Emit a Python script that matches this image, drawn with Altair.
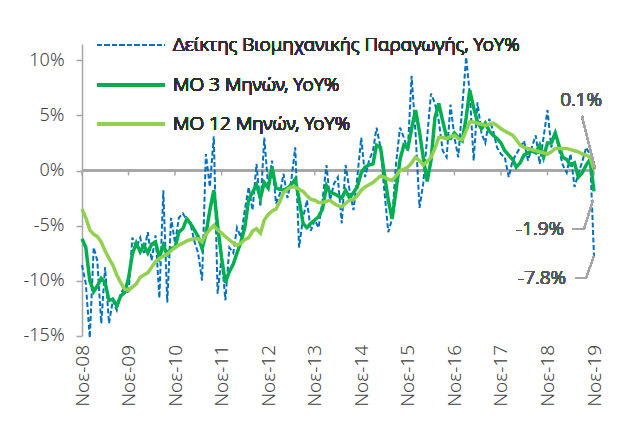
import altair as alt
import pandas as pd

# ---------------- data ----------------
start_month = "2008-11-01"
n_months = 133

ip_yoy = [
    -8.6, -10.3, -15.2, -7.0, -8.2, -13.9, -8.8, -13.9, -11.8, -12.7,
    -11.2, -10.6, -11.2, -6.1, -7.0, -6.1, -7.5, -5.6, -8.2, -5.9,
    -11.6, -1.8, -12.0, -4.3, -6.6, -4.3, -3.9, -4.5, -4.8, -6.4,
    -7.5, -10.0, 1.5, -1.5, 3.1, -11.2, -7.9, -11.8, -7.0, -7.5,
    -5.2, -6.1, -3.6, -1.5, -3.6, 0.6, -3.3, 3.0, -1.5, 0.9,
    -3.0, -2.1, -0.3, -2.5, -0.9, 2.1, -7.0, -4.3, -2.7, -5.5,
    -4.5, -5.2, -2.7, 0.5, -2.7, -1.2, -0.6, -4.8, 0.5, -1.8,
    -3.6, -0.6, 3.0, -0.6, 0.9, 1.8, 3.9, 2.1, -1.8, -5.6,
    -4.4, 0.6, 3.9, 3.0, 1.8, 8.6, 3.4, -3.4, -1.2, 3.0,
    7.0, 6.1, 4.5, 1.8, 1.2, 6.0, 3.0, 1.2, 5.7, 10.3,
    7.0, 0.9, 6.2, 3.4, 2.5, 4.7, 3.6, 2.1, 1.5, 1.2,
    -0.6, 0.9, 1.5, 2.1, 2.7, 0.9, 2.1, 3.2, 0.6, 3.0,
    5.5, 2.1, 3.6, 1.8, 0.5, -0.2, 1.5, -1.5, -0.3, 0.8,
    2.1, 1.4, -7.8,
]

ma3 = [
    -6.2, -7.0, -10.0, -11.0, -10.5, -9.8, -10.2, -11.8, -11.7, -12.3,
    -11.4, -11.1, -9.8, -7.6, -6.6, -7.4, -6.8, -7.5, -6.7, -6.5,
    -7.9, -6.8, -7.6, -7.1, -7.0, -5.6, -5.3, -4.4, -4.8, -5.4,
    -6.0, -7.1, -5.8, -3.6, -1.8, -5.0, -7.9, -10.2, -9.2, -8.5,
    -7.5, -6.5, -5.2, -2.6, -2.0, -1.3, -2.5, -1.1, -1.6, 0.3,
    -1.6, -1.7, -1.8, -1.6, -1.3, -0.8, -2.6, -4.8, -5.2, -4.8,
    -4.5, -4.2, -3.5, -1.4, -2.0, -2.1, -2.3, -2.5, -1.8, -2.5,
    -2.0, -1.5, -0.2, 0.3, 0.5, 0.6, 2.3, 2.1, -0.3, -2.7,
    -4.4, -1.8, 1.0, 2.3, 2.0, 3.8, 5.5, 3.5, 1.2, -1.0,
    0.9, 4.8, 6.1, 4.5, 3.0, 2.9, 3.4, 3.0, 2.7, 4.8,
    7.3, 5.7, 4.4, 3.8, 4.3, 3.6, 3.2, 2.9, 2.5, 1.8,
    1.4, 1.0, 0.3, 0.7, 1.4, 1.6, 1.8, 1.6, 2.3, 1.2,
    2.5, 2.5, 3.4, 2.2, 1.2, 1.0, 0.5, 0.7, -0.6, -0.2,
    0.5, 1.0, -1.9,
]

ma12 = [
    -3.5, -4.3, -5.4, -5.8, -6.0, -6.5, -7.3, -8.0, -8.6, -9.5,
    -10.2, -10.8, -10.9, -10.6, -10.3, -9.7, -9.5, -9.3, -8.8, -8.3,
    -8.0, -7.8, -7.6, -7.3, -7.0, -6.8, -6.6, -6.4, -6.3, -6.2,
    -6.2, -6.5, -5.8, -5.4, -5.0, -5.4, -5.7, -6.0, -6.3, -6.6,
    -6.8, -6.6, -6.3, -6.1, -5.5, -5.3, -5.7, -4.5, -4.0, -3.7,
    -3.5, -2.8, -2.0, -1.7, -1.5, -1.5, -1.7, -1.9, -2.3, -2.6,
    -2.7, -2.9, -2.9, -2.8, -2.7, -3.0, -3.2, -3.3, -3.0, -2.7,
    -2.6, -2.3, -1.8, -1.5, -1.3, -1.1, -0.8, -0.5, -0.6, -0.8,
    -0.9, -0.5, 0.0, 0.1, 0.3, 0.7, 1.2, 0.9, 0.5, 0.8,
    1.2, 2.0, 3.0, 3.0, 2.9, 3.1, 3.2, 2.9, 2.8, 3.6,
    4.4, 4.4, 4.3, 4.2, 4.1, 4.2, 4.3, 4.1, 3.8, 3.6,
    3.4, 3.2, 2.8, 2.3, 2.1, 2.0, 1.9, 1.8, 1.7, 1.6,
    1.5, 1.7, 2.0, 2.0, 2.0, 2.0, 1.9, 1.8, 1.7, 1.5,
    1.4, 1.2, 0.1,
]

series_names = [
    "Δείκτης Βιομηχανικής Παραγωγής, YoY%",
    "ΜΟ 3 Μηνών, YoY%",
    "ΜΟ 12 Μηνών, YoY%",
]
series_colors = ["#0070C0", "#00B050", "#92D050"]

y_ticks = [-15, -10, -5, 0, 5, 10]
tick_years = list(range(2008, 2020))
end_labels = ["0.1%", "-1.9%", "-7.8%"]

assert len(ip_yoy) == n_months and len(ma3) == n_months and len(ma12) == n_months

dates = pd.date_range(start_month, periods=n_months, freq="MS")
df = pd.DataFrame({"date": dates, "ip": ip_yoy, "ma3": ma3, "ma12": ma12})
ticks_df = pd.DataFrame({"date": pd.to_datetime([f"{y}-11-01" for y in tick_years])})

FONT = "Noto Sans"
GRAY = "#a6a6a6"
TXT = "#404040"
W, H = 512, 291.5

x_scale = alt.Scale(domain=[alt.DateTime(year=2008, month=11, date=1),
                            alt.DateTime(year=2019, month=11, date=1)])
y_scale = alt.Scale(domain=[-15, 11.5], nice=False, zero=False)

x_enc = alt.X(
    "date:T",
    scale=x_scale,
    axis=alt.Axis(
        values=[alt.DateTime(year=y, month=11, date=1) for y in tick_years],
        labelExpr="'Νοε-' + timeFormat(datum.value, '%y')",
        labelAngle=270,
        labelFontSize=19,
        labelFont=FONT,
        labelFontWeight=300,
        labelColor=TXT,
        labelPadding=9,
        domain=False,
        ticks=False,
        grid=False,
        title=None,
    ),
)
y_enc_axis = alt.Axis(
    values=y_ticks,
    labelExpr="datum.value + '%'",
    labelFontSize=18,
    labelFont=FONT,
    labelFontWeight=300,
    labelColor=TXT,
    labelPadding=12,
    domainColor=GRAY,
    domainWidth=1.5,
    tickColor=GRAY,
    tickWidth=1.5,
    tickSize=6,
    grid=False,
    title=None,
)

base = alt.Chart(df)

zero_line = alt.Chart(df).mark_rule(color=GRAY, strokeWidth=1.5).encode(
    y=alt.datum(0, scale=y_scale, axis=y_enc_axis)
)
zero_ticks = alt.Chart(ticks_df).mark_rule(color=GRAY, strokeWidth=1.5).encode(
    x=x_enc, y=alt.datum(0), y2=alt.datum(-0.45)
)

line_ip = base.mark_line(color=series_colors[0], strokeWidth=2, strokeDash=[5, 2.5]).encode(
    x=x_enc, y=alt.Y("ip:Q", scale=y_scale, axis=y_enc_axis)
)
line_ma3 = base.mark_line(color=series_colors[1], strokeWidth=3.5).encode(
    x=x_enc, y=alt.Y("ma3:Q")
)
line_ma12 = base.mark_line(color=series_colors[2], strokeWidth=3.5).encode(
    x=x_enc, y=alt.Y("ma12:Q")
)

# ---------------- manual legend (top-left inside the plot) ----------------
leg_rows_y = [1, 41, 80]
legend_layers = []
for i, name in enumerate(series_names):
    kw = dict(color=series_colors[i], strokeWidth=2 if i == 0 else 3.5)
    if i == 0:
        kw["strokeDash"] = [5, 2.5]
    legend_layers.append(
        alt.Chart(df).mark_rule(**kw).encode(
            x=alt.value(15), x2=alt.value(83), y=alt.value(leg_rows_y[i])
        )
    )
    legend_layers.append(
        alt.Chart(df).mark_text(
            text=name, align="left", baseline="middle", font=FONT,
            fontSize=19, fontWeight=300, color="#303030"
        ).encode(x=alt.value(91), y=alt.value(leg_rows_y[i]))
    )

# ---------------- end-value annotations ----------------
ann_color = "#595959"
ann_kw = dict(baseline="middle", font=FONT, fontSize=19, fontWeight=300, color=ann_color)
ann = [
    alt.Chart(df).mark_text(text=end_labels[0], align="center", **ann_kw)
    .encode(x=alt.value(499), y=alt.value(56)),
    alt.Chart(df).mark_rule(color=GRAY, strokeWidth=1.5)
    .encode(x=alt.value(500), y=alt.value(72), x2=alt.value(513), y2=alt.value(125)),

    alt.Chart(df).mark_text(text=end_labels[1], align="right", **ann_kw)
    .encode(x=alt.value(482), y=alt.value(185)),
    alt.Chart(df).mark_rule(color=GRAY, strokeWidth=1.5)
    .encode(x=alt.value(490), y=alt.value(185), x2=alt.value(502), y2=alt.value(185)),
    alt.Chart(df).mark_rule(color=GRAY, strokeWidth=1.5)
    .encode(x=alt.value(502), y=alt.value(185), x2=alt.value(511), y2=alt.value(156)),

    alt.Chart(df).mark_text(text=end_labels[2], align="right", **ann_kw)
    .encode(x=alt.value(484), y=alt.value(234)),
    alt.Chart(df).mark_rule(color=GRAY, strokeWidth=1.5)
    .encode(x=alt.value(493), y=alt.value(234), x2=alt.value(504), y2=alt.value(234)),
    alt.Chart(df).mark_rule(color=GRAY, strokeWidth=1.5)
    .encode(x=alt.value(504), y=alt.value(234), x2=alt.value(512), y2=alt.value(212)),
]

chart = alt.layer(
    zero_line, zero_ticks, line_ip, line_ma3, line_ma12, *legend_layers, *ann
).properties(
    width=W,
    height=H,
    autosize=alt.AutoSizeParams(type="none"),
    padding={"left": 74, "top": 36, "right": 16, "bottom": 85},
    background="white",
).configure_view(stroke=None)

chart.save("out.html", embed_options={"renderer": "svg", "actions": False})
